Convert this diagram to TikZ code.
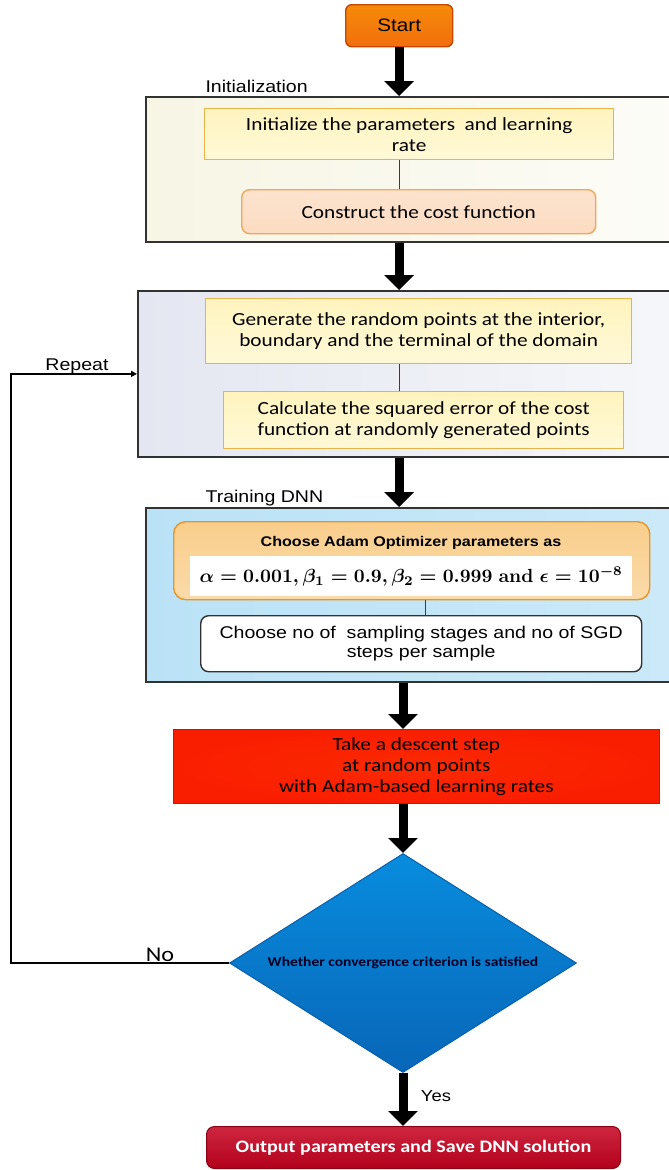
\documentclass[tikz,border=0pt]{standalone}
\usepackage[no-math]{fontspec}
\setmainfont[FakeStretch=1.15]{Liberation Sans}
\newfontfamily\calfont[FakeStretch=1.15]{Carlito}
\usepackage{graphicx}
\usepackage{amsmath}
\usepackage{bm}
\usetikzlibrary{arrows.meta,shapes.geometric}
\definecolor{startfill}{RGB}{242,110,12}
\definecolor{startline}{RGB}{196,70,0}
\definecolor{framegray}{RGB}{50,50,50}
\definecolor{linegray}{RGB}{60,60,60}
\definecolor{goldline}{RGB}{230,180,72}
\definecolor{lightyellow}{RGB}{255,244,190}
\definecolor{peachfill}{RGB}{252,220,194}
\definecolor{peachline}{RGB}{240,166,92}
\definecolor{creamfill}{RGB}{247,245,228}
\definecolor{lavenderfill}{RGB}{228,231,241}
\definecolor{skyfill}{RGB}{186,226,246}
\definecolor{adamfill}{RGB}{249,206,140}
\definecolor{adamline}{RGB}{228,150,44}
\definecolor{descentred}{RGB}{250,30,0}
\definecolor{diamondblue}{RGB}{10,120,216}
\definecolor{outputred}{RGB}{198,0,30}

\begin{document}
\begin{tikzpicture}[x=1pt, y=-1pt,
            group/.style={rectangle, draw=framegray, line width=1.8pt, anchor=north west, inner sep=0pt},
            box/.style={rectangle, anchor=north west, inner sep=0pt, align=center},
            calib/.style={font=\calfont\fontsize{18.5}{21}\selectfont},
            sans/.style={font=\fontsize{17}{19.5}\selectfont},
            yellowbox/.style={box, calib, draw=goldline, line width=1.4pt,
                       top color=lightyellow, bottom color=lightyellow!60!white},
            label/.style={anchor=west, sans},
            link/.style={draw=linegray, line width=1.4pt},
            arrow/.style={-{Triangle[width=29pt,length=15pt]}, line width=9pt},
            loop/.style={-{Triangle[width=6pt,length=6pt]}, line width=1.5pt}
        ]
            \clip (0,0) rectangle (669,1170);

            % Start
            \node[box, rounded corners=6pt, draw=startline, line width=1.4pt,
                  top color=startfill!80!yellow, bottom color=startfill,
                  minimum width=107pt, minimum height=42pt,
                  font=\fontsize{18}{20}\selectfont] (start) at (345,4) {Start};

            % Initialization block
            \node[label] (initlabel) at (202,86) {Initialization};
            \node[group, left color=creamfill, right color=creamfill!30!white,
                  minimum width=527pt, minimum height=145pt] (initbox) at (145,96) {};
            \node[yellowbox, minimum width=409pt, minimum height=51pt] (initpar) at (204,108)
                {Initialize the parameters \ and learning\\rate};
            \node[box, calib, rounded corners=8pt, draw=peachline, line width=1.4pt,
                  top color=peachfill!80!white, bottom color=peachfill,
                  minimum width=354pt, minimum height=44pt] (costfn) at (241,189)
                {Construct the cost function};
            \draw[link] (initpar.south -| start) -- (costfn.north -| start);

            % Sampling block
            \node[group, left color=lavenderfill, right color=lavenderfill!35!white,
                  minimum width=535pt, minimum height=166pt] (domainbox) at (137,290) {};
            \node[yellowbox, minimum width=426pt, minimum height=65pt] (genpts) at (205,298)
                {Generate the random points at the interior,\\boundary and the terminal of the domain};
            \node[yellowbox, minimum width=400pt, minimum height=57pt] (sqerr) at (223,391)
                {Calculate the squared error of the cost\\function at randomly generated points};
            \draw[link] (genpts.south -| start) -- (sqerr.north -| start);

            % Training block
            \node[label] (trainlabel) at (202,498) {Training DNN};
            \node[group, left color=skyfill, right color=skyfill!75!white,
                  minimum width=527pt, minimum height=174pt] (trainbox) at (145,507) {};
            \node[box, rounded corners=12pt, draw=adamline, line width=1.4pt,
                  top color=adamfill, bottom color=adamfill!75!white,
                  minimum width=476pt, minimum height=78pt] (adam) at (173,521) {};
            \node[font=\bfseries\fontsize{14}{16}\selectfont] (adamtitle) at (411,543)
                {Choose Adam Optimizer parameters as};
            \node[box, fill=white, minimum width=442pt, minimum height=40pt] (adamvals) at (190,556)
                {\scalebox{1.9}{\boldmath$\bm{\alpha} = \mathbf{0.001}, \bm{\beta_1} = \mathbf{0.9}, \bm{\beta_2} = \mathbf{0.999}\ \mathbf{and}\ \bm{\epsilon} = \mathbf{10}^{\bm{-8}}$}};
            \node[box, sans, rounded corners=8pt, draw=framegray, line width=1.4pt, fill=white,
                  minimum width=441pt, minimum height=56pt] (sgd) at (200,615)
                {Choose no of \ sampling stages and no of SGD\\steps per sample};
            \draw[link] (adam.south -| sgd.north) ++(4,0) -- ++(0,16);

            % Descent step
            \node[box, calib, draw=descentred!80!black, line width=0.6pt,
                  inner color=descentred!88!orange, outer color=descentred,
                  minimum width=486pt, minimum height=74pt] (descent) at (173,729)
                {Take a descent step\\at random points\\with Adam-based learning rates};

            % Decision
            \node[diamond, aspect=1.58, inner sep=0pt, draw=diamondblue!80!black, line width=1pt,
                  top color=diamondblue!85!cyan, bottom color=diamondblue!85!black,
                  minimum width=347pt, minimum height=219pt,
                  font=\calfont\bfseries\fontsize{13.5}{15}\selectfont, text=black!85!blue] (decide) at (403,963)
                {Whether convergence criterion is satisfied};

            % Output
            \node[box, rounded corners=8pt, draw=outputred!70!black, line width=1pt,
                  top color=outputred!85!white, bottom color=outputred!90!black,
                  minimum width=414pt, minimum height=42pt, text=white,
                  font=\calfont\bfseries\fontsize{17.5}{20}\selectfont] (output) at (206,1126)
                {Output parameters and Save DNN solution};

            % Main flow
            \draw[arrow] (start.south) -- (start.south |- initbox.north);
            \draw[arrow] (initbox.south -| start) -- (domainbox.north -| start);
            \draw[arrow] (domainbox.south -| start) -- (trainbox.north -| start);
            \draw[arrow] (trainbox.south -| decide) -- (descent.north -| decide);
            \draw[arrow] (descent.south -| decide) -- (decide.north);
            \draw[arrow] (decide.south) -- (output.north -| decide);

            % Feedback loop
            \coordinate (loopx) at (11,0);
            \draw[loop] (decide.west) -- (decide.west -| loopx) |- (domainbox.west);
            \node[font=\calfont\fontsize{21}{23}\selectfont] (nolabel) at (160,955) {No};
            \node[sans] (repeatlabel) at (77,366) {Repeat};
            \node[sans, font=\fontsize{16}{18}\selectfont] (yeslabel) at (436,1096) {Yes};
        \end{tikzpicture}
\end{document}
